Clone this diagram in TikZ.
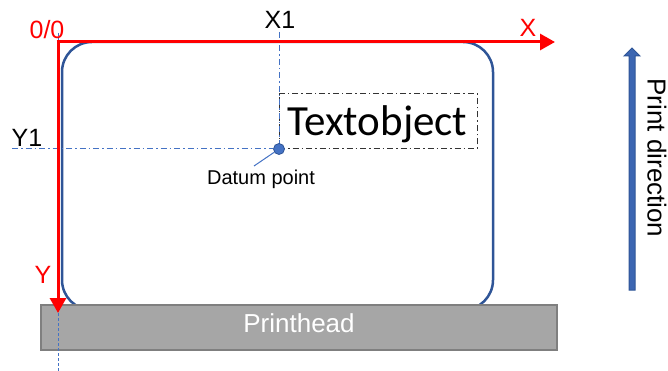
\documentclass[tikz,border=0pt]{standalone}
\usepackage{fontspec}
\setmainfont{Liberation Sans}
\newfontfamily\calib{Carlito}
\usetikzlibrary{arrows.meta}
\definecolor{lblblue}{HTML}{2F5597}
\definecolor{ptblue}{HTML}{4472C4}
\definecolor{phgray}{HTML}{A6A6A6}
\definecolor{phborder}{HTML}{7F7F7F}
\tikzset{
  lbl/.style={inner sep=0pt, font=\fontsize{25}{30}\selectfont},
  redlbl/.style={lbl, text=red},
  guide/.style={draw=ptblue, line width=1pt, dash pattern=on 6pt off 3pt on 1.5pt off 3pt},
  axis/.style={draw=red, line width=3pt, -{Triangle[length=15pt,width=16pt]}},
}
\begin{document}
\begin{tikzpicture}[x=1pt,y=-1pt]
\useasboundingbox (0,0) rectangle (668,371);
% label
\draw[lblblue, line width=2.5pt, rounded corners=30pt] (62,42) rectangle (493,310);
% printhead
\node[draw=phborder, fill=phgray, line width=2pt, minimum width=516pt, minimum height=45pt, inner sep=0pt] (ph) at (299,327.5) {};
\node[anchor=base, inner sep=0pt, text=white, font=\fontsize{26}{30}\selectfont] (phlabel) at (299,332) {Printhead};
% guide lines
\coordinate (gtop) at (58,33);
\coordinate (gbot) at (58,371);
\draw[ptblue, line width=1pt, dash pattern=on 3pt off 2pt] (gtop) -- (gbot);
\coordinate (x1top) at (279,32);
\coordinate (y1left) at (12,149);
% text object
\node[draw=black!80, line width=1pt, dash pattern=on 6pt off 3pt on 1.5pt off 3pt, minimum width=198pt, minimum height=55pt, inner sep=0pt] (tobj) at (378,121.5) {};
\node[anchor=base west, inner sep=0pt, font=\calib\fontsize{43}{48}\selectfont] (ttext) at (287,136) {Textobject};
% datum
\node[circle, fill=ptblue, draw=lblblue, line width=0.8pt, minimum size=11pt, inner sep=0pt] (datum) at (279,149) {};
\draw[guide] (x1top) -- (datum);
\draw[guide] (y1left) -- (datum);
\coordinate (leader) at (254,166);
\draw[ptblue, line width=1pt] (datum) -- (leader);
\node[anchor=base, inner sep=0pt, font=\fontsize{20}{24}\selectfont] (dlabel) at (261,185) {Datum point};
% axes
\coordinate (O) at (58,42);
\coordinate (xe) at (555,42);
\coordinate (ye) at (58,313);
\draw[axis] ([xshift=-1.5pt]O) -- (xe);
\draw[axis] (O) -- (ye);
% labels
\node[redlbl, anchor=base] (l00) at (47,39) {0/0};
\node[redlbl, anchor=base] (lX) at (528,37) {X};
\node[redlbl, anchor=base] (lY) at (43,283) {Y};
\node[lbl, anchor=base] (lX1) at (280,29) {X1};
\node[lbl, anchor=base] (lY1) at (27,147) {Y1};
% print direction arrow
\draw[fill=ptblue!60!lblblue, draw=lblblue, line width=1pt]
  (629,290) -- (629,56) -- (624,56) -- (632,48) -- (640,56) -- (635,56) -- (635,290) -- cycle;
\node[inner sep=0pt, rotate=-90, font=\fontsize{26}{30}\selectfont] (pd) at (657,158) {Print direction};
\end{tikzpicture}
\end{document}
